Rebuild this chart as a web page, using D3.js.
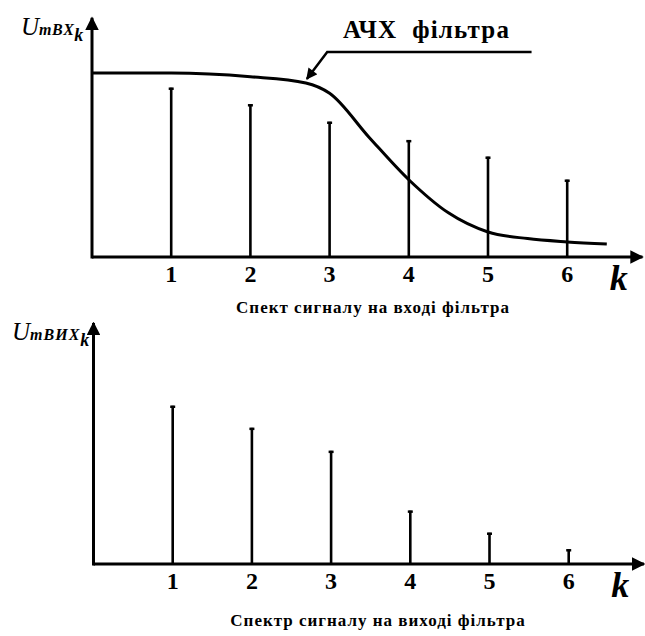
<!DOCTYPE html>
<html lang="uk">
<head>
  <meta charset="UTF-8">
  <title>АЧХ фільтра</title>
  <style>
    body { margin: 0; background: #fff; }
  </style>
  <script src="https://d3js.org/d3.v7.min.js"></script>
</head>
<body>
  <svg id="chart"></svg>
  <script>
    const harmonics = [1, 2, 3, 4, 5, 6];
    const inputAmp = [0.92, 0.83, 0.735, 0.635, 0.545, 0.42];
    const outputAmp = [0.86, 0.74, 0.615, 0.29, 0.17, 0.08];
    // АЧХ фільтра
    const filterK = [0, 1, 2, 2.7, 3, 3.5, 4, 4.5, 5, 5.5, 6, 6.5];
    const filterGain = [1.0, 1.0, 0.98, 0.946, 0.89, 0.65, 0.42, 0.24, 0.136, 0.10, 0.082, 0.07];

    const W = 645, H = 636;
    const FONT = "'Liberation Serif', 'Times New Roman', 'DejaVu Serif', serif";
    const svg = d3.select("#chart").attr("width", W).attr("height", H)
      .style("font-family", FONT);

    const x = d3.scaleLinear().domain([0, 7]).range([92, 646.4]);
    const xEnd = 6.95;

    const defs = svg.append("defs");
    defs.append("marker")
      .attr("id", "arrow")
      .attr("viewBox", "0 0 10 10")
      .attr("refX", 9).attr("refY", 5)
      .attr("markerWidth", 4.5).attr("markerHeight", 4.5)
      .attr("markerUnits", "strokeWidth")
      .attr("orient", "auto")
      .append("path").attr("d", "M0,0 L10,5 L0,10 Z").attr("fill", "#000");
    defs.append("marker")
      .attr("id", "arrowSmall")
      .attr("viewBox", "0 0 10 10")
      .attr("refX", 9).attr("refY", 5)
      .attr("markerWidth", 5).attr("markerHeight", 4.5)
      .attr("markerUnits", "strokeWidth")
      .attr("orient", "auto")
      .append("path").attr("d", "M0,0 L10,5 L0,10 Z").attr("fill", "#000");

    function panel(y, values, opts) {
      const g = svg.append("g");
      const x0 = opts.dx || 0;
      const xs = k => x(k) + x0;

      // axes
      g.append("line")
        .attr("x1", xs(0)).attr("y1", y(0))
        .attr("x2", xs(xEnd)).attr("y2", y(0))
        .attr("stroke", "#000").attr("stroke-width", 3)
        .attr("marker-end", "url(#arrow)");
      g.append("line")
        .attr("x1", xs(0)).attr("y1", y(0) + 1.5)
        .attr("x2", xs(0)).attr("y2", y(opts.yMax))
        .attr("stroke", "#000").attr("stroke-width", 3)
        .attr("marker-end", "url(#arrow)");

      // spectral lines
      g.selectAll(".stem").data(harmonics).join("line")
        .attr("x1", d => xs(d)).attr("x2", d => xs(d))
        .attr("y1", y(0)).attr("y2", (d, i) => y(values[i]))
        .attr("stroke", "#000").attr("stroke-width", 2.6);
      g.selectAll(".cap").data(harmonics).join("line")
        .attr("x1", d => xs(d) - 2.5).attr("x2", d => xs(d) + 2.5)
        .attr("y1", (d, i) => y(values[i]) + 1).attr("y2", (d, i) => y(values[i]) + 1)
        .attr("stroke", "#000").attr("stroke-width", 2.5);

      // tick labels
      g.selectAll(".tick-label").data(harmonics).join("text")
        .attr("class", "tick-label")
        .attr("x", d => xs(d)).attr("y", y(0) + 25)
        .attr("text-anchor", "middle")
        .style("font-family", FONT)
        .style("font-size", "24px").style("font-weight", "bold")
        .text(d => d);

      g.append("text")
        .attr("x", xs(6.65)).attr("y", y(0) + 33)
        .attr("text-anchor", "middle")
        .style("font-family", FONT)
        .style("font-size", "36px").style("font-style", "italic").style("font-weight", "bold")
        .text("k");

      // y label
      const lab = g.append("text")
        .attr("x", opts.labelX).attr("y", y(opts.yMax) + 17)
        .style("font-family", FONT)
        .style("font-style", "italic");
      lab.append("tspan").style("font-size", "25px").text("U");
      lab.append("tspan").style("font-size", "16px").style("font-weight", "bold")
        .style("letter-spacing", opts.subSpacing).text(opts.sub);
      lab.append("tspan").attr("dy", 6).style("font-size", "18px").style("font-weight", "bold").text("k");

      g.append("text")
        .attr("x", opts.capX).attr("y", y(0) + opts.capDy)
        .attr("text-anchor", "middle")
        .style("font-family", FONT)
        .style("font-size", "17px").style("font-weight", "bold")
        .style("letter-spacing", "1px")
        .text(opts.caption);
      return g;
    }

    const yTop = d3.scaleLinear().domain([0, 1]).range([257, 73]);
    const yBot = d3.scaleLinear().domain([0, 1]).range([564, 380]);

    const topPanel = panel(yTop, inputAmp, {
      yMax: 1.3, sub: "mBX", subSpacing: "0.5px", labelX: 21, capX: 373, capDy: 56,
      caption: "Спект сигналу на вході фільтра"
    });
    panel(yBot, outputAmp, {
      yMax: 1.31, sub: "mBИX", subSpacing: "1px", labelX: 12, capX: 378, capDy: 62, dx: 1.5,
      caption: "Спектр сигналу на виході фільтра"
    });

    // filter response curve
    const curve = d3.line()
      .x((d, i) => x(filterK[i]))
      .y(d => yTop(d))
      .curve(d3.curveMonotoneX);
    topPanel.append("path")
      .datum(filterGain)
      .attr("d", curve)
      .attr("fill", "none")
      .attr("stroke", "#000")
      .attr("stroke-width", 3);

    // annotation
    const tipK = 2.7, tipV = 0.946;
    topPanel.append("path")
      .attr("d", `M${x(5.55)},52 L${x(2.97)},52 L${x(tipK) + 1},${yTop(tipV) - 4}`)
      .attr("fill", "none")
      .attr("stroke", "#000").attr("stroke-width", 2.5)
      .attr("marker-end", "url(#arrowSmall)");
    topPanel.append("text")
      .attr("x", 343).attr("y", 38)
      .style("font-family", FONT)
      .style("font-size", "25px").style("font-weight", "bold")
      .style("letter-spacing", "1.2px")
      .style("white-space", "pre")
      .text("АЧХ  фільтра");
  </script>
</body>
</html>
